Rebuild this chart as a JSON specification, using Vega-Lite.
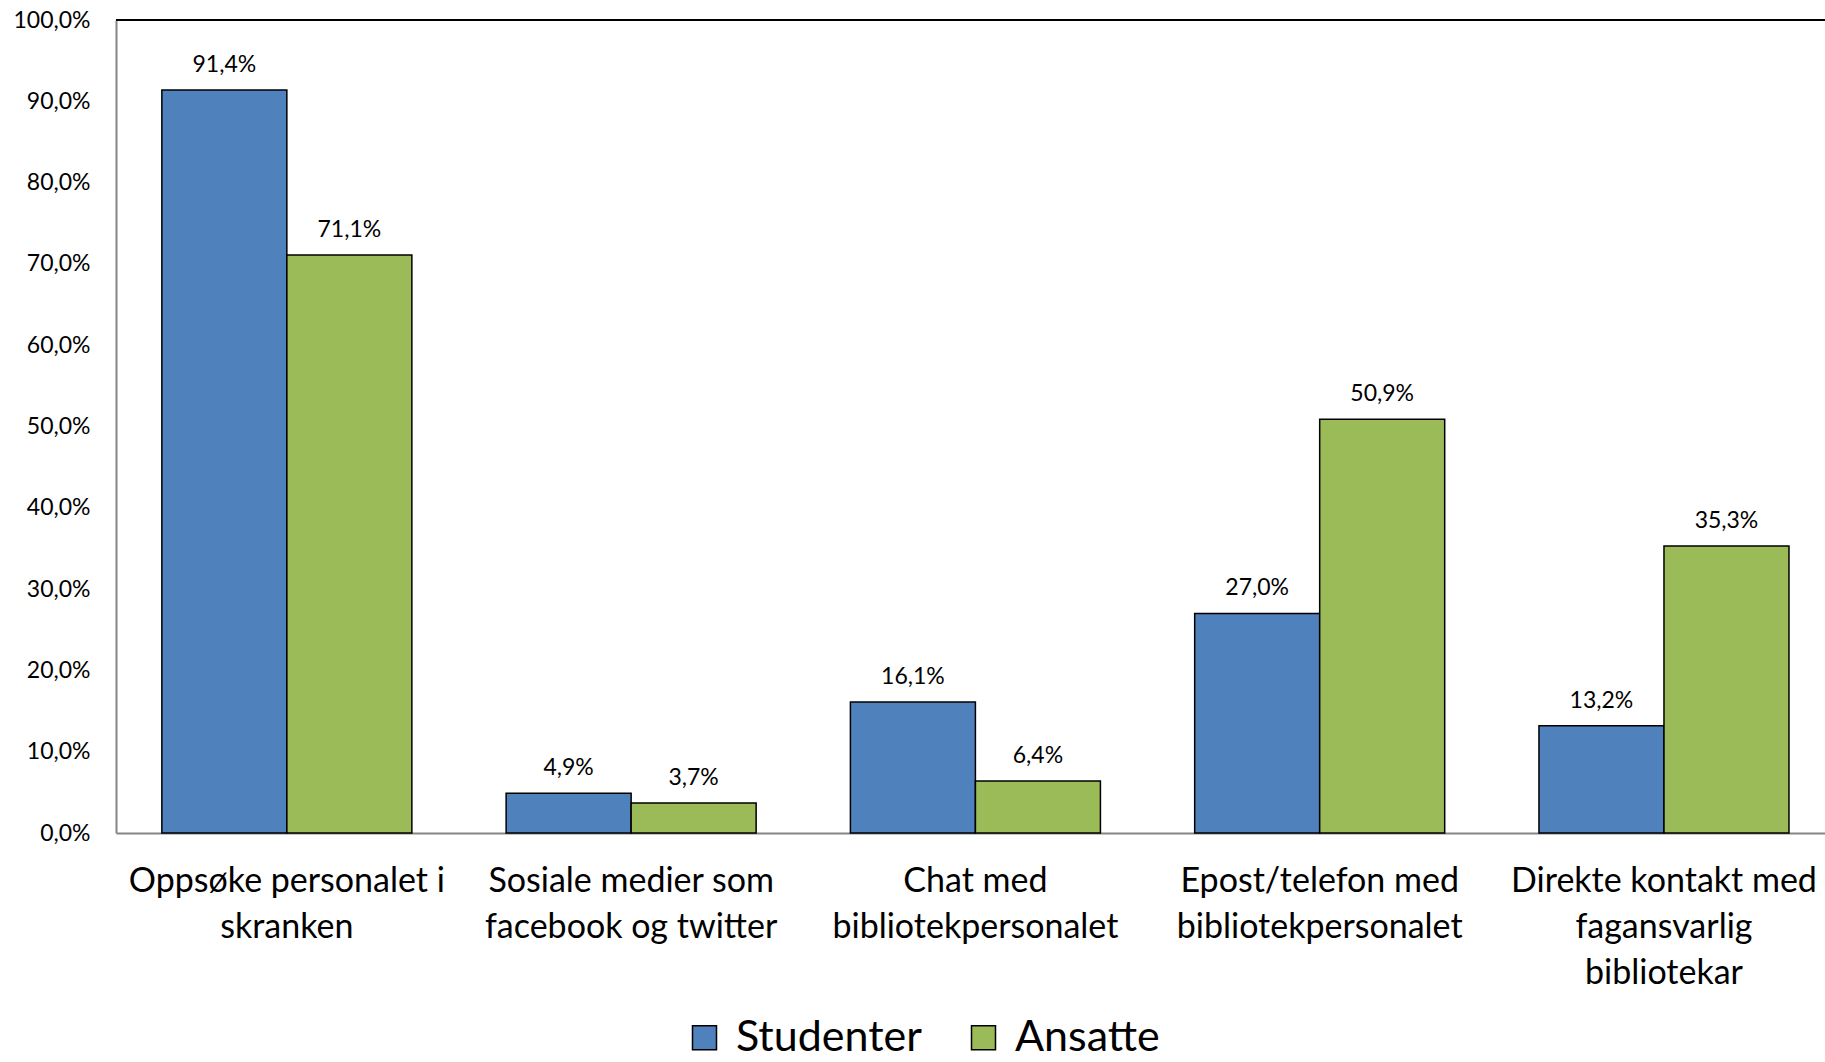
{
  "$schema": "https://vega.github.io/schema/vega-lite/v6.json",
  "width": 1709,
  "height": 813,
  "autosize": {"type": "none"},
  "padding": {"left": 116, "top": 20, "right": 0, "bottom": 229},
  "background": "white",
  "config": {
    "locale": {
      "number": {"decimal": ",", "thousands": " ", "grouping": [3], "currency": ["", " kr"], "percent": "%"}
    },
    "view": {"stroke": null},
    "font": "Lato",
    "axis": {"labelFont": "Lato", "labelColor": "#000000", "grid": false, "ticks": false, "title": null}
  },
  "data": {
    "values": [
      {"kanal": "Oppsøke personalet i skranken", "gruppe": "Studenter", "andel": 0.914},
      {"kanal": "Oppsøke personalet i skranken", "gruppe": "Ansatte", "andel": 0.711},
      {"kanal": "Sosiale medier som facebook og twitter", "gruppe": "Studenter", "andel": 0.049},
      {"kanal": "Sosiale medier som facebook og twitter", "gruppe": "Ansatte", "andel": 0.037},
      {"kanal": "Chat med bibliotekpersonalet", "gruppe": "Studenter", "andel": 0.161},
      {"kanal": "Chat med bibliotekpersonalet", "gruppe": "Ansatte", "andel": 0.064},
      {"kanal": "Epost/telefon med bibliotekpersonalet", "gruppe": "Studenter", "andel": 0.27},
      {"kanal": "Epost/telefon med bibliotekpersonalet", "gruppe": "Ansatte", "andel": 0.509},
      {"kanal": "Direkte kontakt med fagansvarlig bibliotekar", "gruppe": "Studenter", "andel": 0.132},
      {"kanal": "Direkte kontakt med fagansvarlig bibliotekar", "gruppe": "Ansatte", "andel": 0.353}
    ]
  },
  "encoding": {
    "x": {
      "field": "kanal",
      "type": "nominal",
      "sort": null,
      "scale": {"paddingInner": 0.2738, "paddingOuter": 0.1189, "align": 0.56},
      "axis": {
        "labelAngle": 0,
        "labelFontSize": 34,
        "labelLineHeight": 46,
        "labelPadding": 31,
        "labelBaseline": "top",
        "labelLimit": 400,
        "domainColor": "#868686",
        "domainWidth": 2,
        "labelExpr": "datum.value == 'Oppsøke personalet i skranken' ? ['Oppsøke personalet i', 'skranken'] : datum.value == 'Sosiale medier som facebook og twitter' ? ['Sosiale medier som', 'facebook og twitter'] : datum.value == 'Chat med bibliotekpersonalet' ? ['Chat med', 'bibliotekpersonalet'] : datum.value == 'Epost/telefon med bibliotekpersonalet' ? ['Epost/telefon med', 'bibliotekpersonalet'] : ['Direkte kontakt med', 'fagansvarlig', 'bibliotekar']"
      }
    },
    "xOffset": {
      "field": "gruppe",
      "type": "nominal",
      "sort": ["Studenter", "Ansatte"],
      "scale": {"paddingInner": 0, "paddingOuter": 0}
    },
    "y": {
      "field": "andel",
      "type": "quantitative",
      "scale": {"domain": [0, 1], "nice": false},
      "axis": {
        "values": [0, 0.1, 0.2, 0.3, 0.4, 0.5, 0.6, 0.7, 0.8, 0.9, 1],
        "format": ".1%",
        "labelFontSize": 23,
        "labelPadding": 26,
        "domainColor": "#868686",
        "domainWidth": 2
      }
    }
  },
  "layer": [
    {
      "mark": {"type": "rule", "color": "#000000", "strokeWidth": 2},
      "encoding": {"x": null, "xOffset": null, "y": {"datum": 1, "type": "quantitative"}}
    },
    {
      "mark": {"type": "bar", "stroke": "#000000", "strokeWidth": 1.5},
      "encoding": {
        "color": {
          "field": "gruppe",
          "type": "nominal",
          "scale": {"domain": ["Studenter", "Ansatte"], "range": ["#4F81BD", "#9BBB59"]},
          "legend": {
            "title": null,
            "orient": "none",
            "direction": "horizontal",
            "legendX": 567,
            "legendY": 996,
            "padding": 0,
            "symbolType": "square",
            "symbolSize": 576,
            "symbolStrokeColor": "#000000",
            "symbolStrokeWidth": 1.5,
            "symbolOpacity": 1,
            "labelFont": "Lato",
            "labelFontSize": 43,
            "labelColor": "#000000",
            "labelOffset": 10,
            "columnPadding": 40,
            "labelLimit": 400
          }
        }
      }
    },
    {
      "mark": {"type": "text", "baseline": "alphabetic", "dy": -18, "fontSize": 23, "color": "#000000", "font": "Lato"},
      "encoding": {
        "text": {"field": "andel", "type": "quantitative", "format": ".1%"}
      }
    }
  ]
}
